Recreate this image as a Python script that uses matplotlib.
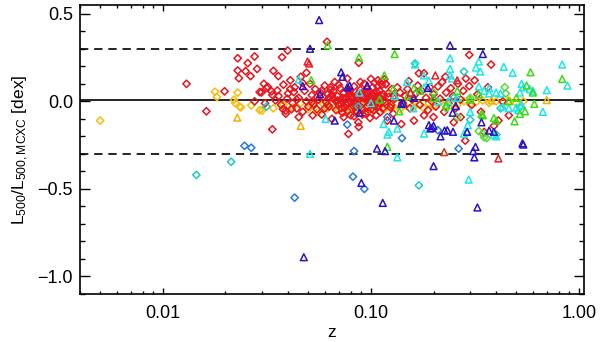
import matplotlib
matplotlib.use("Agg")
import matplotlib.pyplot as plt
from matplotlib.ticker import FixedLocator, NullFormatter, LogLocator
import numpy as np

plt.rcParams['font.family'] = ['Liberation Sans', 'DejaVu Sans']
plt.rcParams['mathtext.fontset'] = 'custom'
plt.rcParams['mathtext.rm'] = 'Liberation Sans'
plt.rcParams['mathtext.it'] = 'Liberation Sans'

# ---------------- data ----------------
red_dia_z = [0.013, 0.0162, 0.0198, 0.0229, 0.0229, 0.0232, 0.0256, 0.025, 0.0264, 0.0276,
             0.0284, 0.0276, 0.0292, 0.0306, 0.0319, 0.0298, 0.0336, 0.0355, 0.031, 0.0348,
             0.0336, 0.034, 0.0359, 0.0374, 0.0398, 0.0315, 0.0333, 0.0378, 0.0396, 0.0426,
             0.045, 0.049, 0.0615, 0.0525, 0.078, 0.0874, 0.0874, 0.039, 0.0415,
             0.036, 0.037, 0.038, 0.039, 0.040, 0.041, 0.042, 0.043, 0.044, 0.045,
             0.046, 0.047, 0.048, 0.049, 0.050, 0.051, 0.052, 0.053, 0.054, 0.055,
             0.056, 0.057, 0.058, 0.059, 0.060, 0.061, 0.062, 0.063, 0.064, 0.065,
             0.066, 0.067, 0.068, 0.069, 0.070, 0.071, 0.072, 0.073, 0.074, 0.075,
             0.076, 0.077, 0.078, 0.079, 0.080, 0.081, 0.082, 0.083, 0.084, 0.085,
             0.086, 0.087, 0.088, 0.089, 0.090, 0.091, 0.092, 0.093, 0.094, 0.095,
             0.096, 0.097, 0.098, 0.099, 0.100, 0.101, 0.102, 0.103, 0.104, 0.105,
             0.106, 0.107, 0.108, 0.109, 0.110, 0.111, 0.112, 0.113, 0.114, 0.115,
             0.117, 0.118, 0.120, 0.122, 0.124, 0.126, 0.128, 0.130,
             0.068, 0.072, 0.075, 0.078, 0.080, 0.082, 0.085, 0.087, 0.090, 0.092,
             0.094, 0.096, 0.098, 0.100, 0.102, 0.104, 0.106, 0.108, 0.110, 0.112,
             0.060, 0.063, 0.066, 0.070, 0.074, 0.077, 0.083, 0.089, 0.091, 0.097,
             0.116, 0.113, 0.118, 0.100, 0.104, 0.108, 0.134, 0.138, 0.142, 0.146,
             0.150, 0.154, 0.158, 0.161, 0.165, 0.168, 0.170, 0.172, 0.176, 0.180,
             0.180, 0.184, 0.188, 0.192, 0.196, 0.200, 0.205, 0.210, 0.215, 0.220,
             0.225, 0.230, 0.236, 0.242, 0.248, 0.255, 0.262, 0.270, 0.278, 0.284,
             0.286, 0.297, 0.297, 0.305, 0.315, 0.325, 0.338, 0.350, 0.365, 0.378,
             0.390, 0.410, 0.430, 0.460, 0.270, 0.140, 0.152, 0.200, 0.228, 0.250,
             0.041, 0.044, 0.047, 0.052, 0.055, 0.058, 0.062, 0.065, 0.069, 0.073,
             0.076, 0.079, 0.081, 0.084, 0.086, 0.088, 0.093, 0.095, 0.099, 0.103,
             0.107, 0.111, 0.115, 0.121, 0.125, 0.129, 0.064, 0.071, 0.079, 0.086]
red_dia_v = [0.10, -0.057, 0.057, 0.246, 0.176, 0.132, 0.218, 0.172, 0.144, 0.256,
             0.185, 0.000, 0.053, 0.100, 0.083, 0.051, 0.037, 0.062, -0.011, 0.006,
             -0.160, 0.174, 0.144, 0.252, 0.290, 0.076, 0.057, -0.045, 0.015, 0.053,
             -0.090, 0.163, 0.340, -0.080, -0.186, -0.146, 0.220, -0.053, -0.045,
             0.030, -0.020, 0.095, -0.070, 0.045, 0.120, -0.010, 0.080, -0.040, 0.020,
             0.140, -0.060, 0.060, 0.000, -0.030, 0.100, 0.035, -0.015, 0.070, -0.045,
             0.010, 0.050, -0.075, 0.025, 0.090, -0.005, 0.040, -0.030, 0.065, -0.100,
             0.015, 0.110, -0.050, 0.030, -0.020, 0.075, 0.005, -0.065, 0.045, -0.035,
             0.020, 0.130, -0.010, 0.055, -0.080, 0.030, -0.025, 0.085, 0.000, -0.055,
             0.040, -0.120, 0.015, 0.065, -0.040, 0.025, -0.005, 0.100, -0.070, 0.035,
             -0.030, 0.010, 0.060, -0.095, 0.020, -0.015, 0.080, -0.050, 0.045, 0.000,
             -0.080, 0.030, 0.120, -0.025, 0.060, -0.060, 0.010, 0.095, -0.040, 0.040,
             -0.005, 0.098, -0.110, 0.025, -0.035, 0.070, -0.070, 0.015,
             0.000, -0.040, 0.010, 0.035, -0.005, 0.015, -0.030, 0.005, 0.045, -0.050,
             0.020, 0.070, -0.015, -0.045, 0.030, -0.025, 0.055, 0.000, -0.010, 0.035,
             -0.040, 0.020, 0.060, 0.095, -0.090, -0.055, -0.085, 0.110, -0.075, 0.050,
             0.125, 0.117, 0.098, 0.128, 0.106, 0.085, 0.080, 0.050, -0.010, 0.030,
             0.070, -0.040, 0.010, -0.110, 0.045, 0.090, 0.160, -0.020, 0.060, -0.080,
             0.160, 0.020, -0.050, 0.080, 0.000, 0.040, -0.030, 0.085, 0.015, 0.110,
             -0.060, 0.050, -0.010, 0.075, 0.030, -0.040, 0.100, 0.010, 0.060, -0.224,
             0.130, 0.087, 0.265, -0.020, 0.120, 0.040, -0.060, -0.175, 0.080, 0.210,
             -0.140, -0.110, 0.000, -0.080, -0.090, -0.130, 0.115, -0.090, 0.140, -0.120,
             0.070, 0.010, 0.105, -0.005, 0.025, 0.060, -0.020, 0.035, 0.005, 0.020,
             -0.015, 0.040, 0.010, -0.010, 0.025, -0.030, 0.015, 0.050, 0.000, 0.035,
             -0.035, 0.020, 0.005, 0.045, -0.020, 0.030, 0.080, -0.010, 0.065, -0.060]

gold_dia_z = [0.005, 0.0178, 0.0182, 0.022, 0.0223, 0.0229, 0.0234, 0.0237, 0.0266, 0.0292,
              0.030, 0.034, 0.038, 0.042, 0.046, 0.050, 0.053, 0.056, 0.059, 0.062,
              0.065, 0.067, 0.070, 0.072, 0.075, 0.078, 0.080, 0.083, 0.086, 0.089,
              0.092, 0.095, 0.098, 0.102, 0.106, 0.110, 0.115, 0.120, 0.126, 0.132,
              0.138, 0.145, 0.152, 0.160, 0.170, 0.180, 0.190, 0.200, 0.215, 0.230,
              0.245, 0.260, 0.280, 0.300, 0.320, 0.345, 0.370, 0.400, 0.430, 0.460,
              0.500, 0.540]
gold_dia_v = [-0.110, 0.055, 0.025, 0.010, -0.010, 0.050, -0.030, -0.035, -0.023, -0.050,
              -0.053, -0.040, -0.020, -0.035, -0.010, -0.045, -0.025, -0.060, -0.015, -0.040,
              -0.005, -0.030, -0.050, -0.020, -0.040, -0.010, -0.060, -0.030, -0.045, -0.015,
              -0.035, -0.055, -0.020, -0.040, -0.010, -0.030, -0.050, -0.020, -0.035, -0.010,
              -0.045, -0.025, -0.005, -0.035, -0.015, -0.040, -0.010, -0.025, -0.005, -0.030,
              -0.010, -0.020, 0.000, -0.015, -0.005, 0.005, -0.010, 0.000, -0.005, 0.005,
              -0.010, 0.000]

blue_dia_z = [0.0247, 0.0266, 0.043, 0.083, 0.082, 0.093, 0.077, 0.141, 0.264, 0.210, 0.120]
blue_dia_v = [-0.254, -0.265, -0.550, -0.284, -0.430, -0.500, -0.133, -0.210, -0.270, -0.165, -0.090]

cyan_dia_z = [0.0145, 0.0213, 0.0315, 0.170, 0.163, 0.280, 0.250, 0.420, 0.520, 0.087, 0.400, 0.300]
cyan_dia_v = [-0.420, -0.345, -0.030, -0.480, 0.216, 0.170, 0.020, -0.040, -0.035, -0.030, -0.190, -0.105]

green_dia_z = [0.440, 0.445, 0.360, 0.330, 0.350, 0.345, 0.300, 0.260, 0.230, 0.200]
green_dia_v = [0.080, 0.045, -0.210, -0.170, -0.205, -0.185, 0.020, -0.090, -0.040, 0.050]

blue_tri_z = [0.0564, 0.051, 0.047, 0.072, 0.073, 0.077, 0.079, 0.096, 0.057, 0.067,
              0.088, 0.107, 0.117, 0.090, 0.114, 0.0476, 0.200, 0.310, 0.318, 0.314,
              0.325, 0.540, 0.535, 0.240, 0.345, 0.188, 0.140, 0.143, 0.161, 0.256,
              0.247, 0.129, 0.190, 0.197, 0.193, 0.216, 0.226, 0.248, 0.200, 0.233,
              0.340, 0.370, 0.390, 0.290]
blue_tri_v = [0.464, 0.300, 0.087, 0.166, 0.140, 0.080, 0.090, 0.090, 0.041, -0.110,
              -0.065, -0.270, -0.284, -0.466, -0.580, -0.890, -0.370, -0.284, -0.260, -0.320,
              -0.606, -0.247, -0.240, 0.320, 0.270, 0.076, -0.015, -0.011, 0.020, -0.027,
              -0.065, -0.110, -0.136, -0.152, -0.155, -0.200, -0.167, -0.174, -0.140, -0.165,
              -0.120, -0.167, -0.174, -0.174]

cyan_tri_z = [0.045, 0.0606, 0.051, 0.088, 0.134, 0.295, 0.240, 0.240, 0.240, 0.245,
              0.163, 0.330, 0.320, 0.335, 0.435, 0.480, 0.830, 0.880, 0.700, 0.530,
              0.540, 0.520, 0.580, 0.600, 0.670, 0.430, 0.460, 0.500, 0.530, 0.510,
              0.330, 0.350, 0.370, 0.400, 0.420, 0.370, 0.149, 0.180, 0.190, 0.180,
              0.115, 0.122, 0.120, 0.134, 0.180, 0.290, 0.292, 0.280, 0.390, 0.400,
              0.100, 0.130, 0.160, 0.210, 0.260, 0.300, 0.235]
cyan_tri_v = [0.125, -0.100, -0.300, 0.050, -0.320, -0.447, 0.246, 0.185, 0.148, 0.130,
              0.210, 0.227, 0.193, 0.170, 0.197, 0.163, 0.210, 0.090, 0.064, 0.100,
              0.080, 0.050, 0.070, 0.060, -0.060, -0.030, -0.040, -0.035, -0.020, -0.050,
              0.085, 0.060, 0.075, 0.050, 0.045, 0.045, 0.110, 0.148, 0.117, 0.080,
              -0.130, -0.174, -0.190, -0.156, -0.184, -0.174, -0.136, -0.185, -0.190, -0.200,
              -0.010, 0.030, -0.040, 0.000, 0.020, -0.060, 0.000]

green_tri_z = [0.062, 0.0876, 0.0517, 0.130, 0.116, 0.128, 0.137, 0.120, 0.585, 0.830,
               0.610, 0.550, 0.520, 0.490, 0.340, 0.390, 0.400, 0.161, 0.172, 0.560,
               0.600, 0.330, 0.300, 0.260, 0.230, 0.200, 0.150, 0.110, 0.345, 0.500, 0.460]
green_tri_v = [0.320, 0.250, 0.121, 0.270, 0.148, 0.072, -0.057, -0.260, 0.166, 0.128,
               -0.015, -0.057, -0.072, -0.114, -0.072, -0.095, -0.110, 0.076, 0.060, 0.090,
               0.050, 0.040, 0.010, 0.060, -0.020, 0.020, 0.030, 0.010, -0.080, 0.020, 0.000]

red_tri_z = [0.0496, 0.0505, 0.204, 0.410, 0.155, 0.260]
red_tri_v = [0.227, 0.216, 0.148, -0.326, 0.050, 0.120]

dkred_tri_z = [0.225]
dkred_tri_v = [-0.290]

orange_tri_z = [0.0228, 0.046, 0.700, 0.380]
orange_tri_v = [-0.093, -0.140, 0.007, 0.005]

mean_line = 0.01
scatter_lines = [0.30, -0.30]

# ---------------- plot ----------------
fig = plt.figure(figsize=(6.0, 3.42), dpi=100)
ax = fig.add_axes([80/600, 1-294/342, 504/600, 289/342])

DS = 14
TS = 24
LW = 1.1

ax.axhline(mean_line, color='black', lw=1.2, zorder=1)
for y in scatter_lines:
    ax.axhline(y, color='black', lw=1.2, ls=(0, (5, 3.5)), zorder=1)

ax.scatter(gold_dia_z, gold_dia_v, s=DS, marker='D', facecolors='none', edgecolors='#f7bd0a', linewidths=LW, zorder=2)
ax.scatter(red_dia_z, red_dia_v, s=DS, marker='D', facecolors='none', edgecolors='#e8141e', linewidths=LW, zorder=2)
ax.scatter(blue_dia_z, blue_dia_v, s=DS, marker='D', facecolors='none', edgecolors='#2a78e0', linewidths=LW, zorder=3)
ax.scatter(cyan_dia_z, cyan_dia_v, s=DS, marker='D', facecolors='none', edgecolors='#22c8c8', linewidths=LW, zorder=3)
ax.scatter(green_dia_z, green_dia_v, s=DS, marker='D', facecolors='none', edgecolors='#5ad83c', linewidths=LW, zorder=3)
ax.scatter(cyan_tri_z, cyan_tri_v, s=TS, marker='^', facecolors='none', edgecolors='#1ee6e6', linewidths=LW, zorder=4)
ax.scatter(green_tri_z, green_tri_v, s=TS, marker='^', facecolors='none', edgecolors='#3cdc14', linewidths=LW, zorder=4)
ax.scatter(blue_tri_z, blue_tri_v, s=TS, marker='^', facecolors='none', edgecolors='#2a14c8', linewidths=LW, zorder=4)
ax.scatter(red_tri_z, red_tri_v, s=TS, marker='^', facecolors='none', edgecolors='#e81e28', linewidths=LW, zorder=4)
ax.scatter(dkred_tri_z, dkred_tri_v, s=TS, marker='^', facecolors='none', edgecolors='#c83c10', linewidths=LW, zorder=4)
ax.scatter(orange_tri_z, orange_tri_v, s=TS, marker='^', facecolors='none', edgecolors='#f5b000', linewidths=LW, zorder=4)

ax.set_xscale('log')
ax.set_xlim(0.004, 1.057)
ax.set_ylim(-1.1, 0.55)

xticks = [0.01, 0.1, 1.0]
xticklabels = ['0.01', '0.10', '1.00']
ax.set_xticks(xticks)
ax.set_xticklabels(xticklabels)
ax.xaxis.set_minor_locator(LogLocator(base=10, subs=np.arange(2, 10)))
ax.xaxis.set_minor_formatter(NullFormatter())

yticks = [-1.0, -0.5, 0.0, 0.5]
yticklabels = ['\u22121.0', '\u22120.5', '0.0', '0.5']
ax.set_yticks(yticks)
ax.set_yticklabels(yticklabels)
ax.yaxis.set_minor_locator(FixedLocator(np.round(np.arange(-1.1, 0.56, 0.1), 2)))

ax.tick_params(axis='x', which='major', direction='in', length=4.3, width=1.0, top=True, labelsize=13, pad=8)
ax.tick_params(axis='x', which='minor', direction='in', length=2.2, width=1.0, top=True)
ax.tick_params(axis='y', which='major', direction='in', length=7.2, width=1.0, right=True, labelsize=13, pad=5)
ax.tick_params(axis='y', which='minor', direction='in', length=3.6, width=1.0, right=True)

for sp in ax.spines.values():
    sp.set_linewidth(1.2)

ax.set_xlabel('z', fontsize=12.5, labelpad=2)
ax.set_ylabel(r'L$_{\mathregular{500}}$/L$_{\mathregular{500,MCXC}}$ [dex]', fontsize=12.5, labelpad=5)

fig.savefig('out.png', dpi=100)
